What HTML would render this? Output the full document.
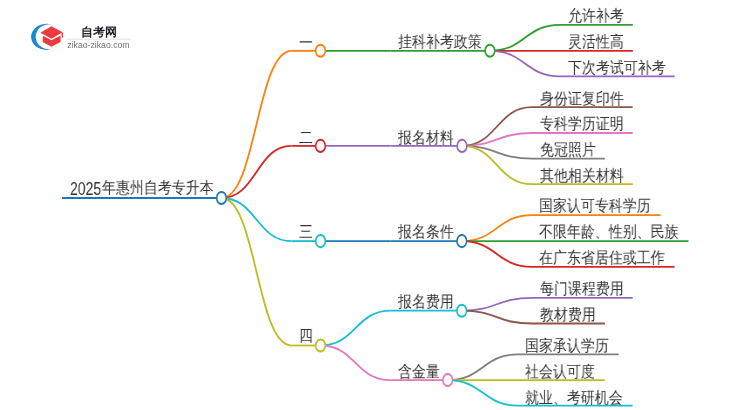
<!DOCTYPE html>
<html><head><meta charset="utf-8"><style>
html,body{margin:0;padding:0;background:#fff;}
body{width:750px;height:410px;position:relative;overflow:hidden;font-family:"Liberation Sans",sans-serif;}
svg.map{position:absolute;left:0;top:0;}
.t{position:absolute;white-space:nowrap;font-size:16px;line-height:20px;color:#333;transform-origin:0 0;transform:scaleX(0.872);will-change:transform;}
.dg{font-size:18px;transform:scaleX(0.778);}
.logo{position:absolute;left:0;top:0;}
.lt{position:absolute;left:81px;top:23.5px;font-size:11.6px;line-height:16px;font-weight:bold;color:#1c1f2a;white-space:nowrap;}
.lu{position:absolute;left:67.3px;top:39.5px;font-size:8.7px;line-height:10px;color:#707070;white-space:nowrap;}
</style></head><body>
<svg class="map" width="750" height="410" viewBox="0 0 750 410">
<path d="M62.00 198.00H221.50" stroke="#1f77b4" stroke-width="1.8" fill="none"/>
<path d="M221.50 198.00C256.50 198.00 256.50 50.80 291.50 50.80" stroke="#ff7f0e" stroke-width="1.8" fill="none"/>
<path d="M291.50 50.80H320.50" stroke="#ff7f0e" stroke-width="1.8" fill="none"/>
<path d="M221.50 198.00C256.50 198.00 256.50 145.90 291.50 145.90" stroke="#d62728" stroke-width="1.8" fill="none"/>
<path d="M291.50 145.90H320.50" stroke="#d62728" stroke-width="1.8" fill="none"/>
<path d="M221.50 198.00C256.50 198.00 256.50 241.10 291.50 241.10" stroke="#17becf" stroke-width="1.8" fill="none"/>
<path d="M291.50 241.10H320.50" stroke="#17becf" stroke-width="1.8" fill="none"/>
<path d="M221.50 198.00C256.50 198.00 256.50 345.50 291.50 345.50" stroke="#bcbd22" stroke-width="1.8" fill="none"/>
<path d="M291.50 345.50H320.50" stroke="#bcbd22" stroke-width="1.8" fill="none"/>
<path d="M320.50 50.80H390.50" stroke="#2ca02c" stroke-width="1.8" fill="none"/>
<path d="M390.50 50.80H489.90" stroke="#2ca02c" stroke-width="1.8" fill="none"/>
<path d="M489.90 50.80C524.95 50.80 524.95 24.80 560.00 24.80" stroke="#2ca02c" stroke-width="1.8" fill="none"/>
<path d="M560.00 24.80H632.81" stroke="#2ca02c" stroke-width="1.8" fill="none"/>
<path d="M489.90 50.80H560.00" stroke="#d62728" stroke-width="1.8" fill="none"/>
<path d="M560.00 50.80H632.81" stroke="#d62728" stroke-width="1.8" fill="none"/>
<path d="M489.90 50.80C524.95 50.80 524.95 76.40 560.00 76.40" stroke="#9467bd" stroke-width="1.8" fill="none"/>
<path d="M560.00 76.40H674.66" stroke="#9467bd" stroke-width="1.8" fill="none"/>
<path d="M320.50 145.90H390.50" stroke="#9467bd" stroke-width="1.8" fill="none"/>
<path d="M390.50 145.90H462.00" stroke="#9467bd" stroke-width="1.8" fill="none"/>
<path d="M462.00 145.90C497.00 145.90 497.00 107.10 532.00 107.10" stroke="#8c564b" stroke-width="1.8" fill="none"/>
<path d="M532.00 107.10H632.71" stroke="#8c564b" stroke-width="1.8" fill="none"/>
<path d="M462.00 145.90C497.00 145.90 497.00 133.00 532.00 133.00" stroke="#e377c2" stroke-width="1.8" fill="none"/>
<path d="M532.00 133.00H632.71" stroke="#e377c2" stroke-width="1.8" fill="none"/>
<path d="M462.00 145.90C497.00 145.90 497.00 158.70 532.00 158.70" stroke="#7f7f7f" stroke-width="1.8" fill="none"/>
<path d="M532.00 158.70H604.81" stroke="#7f7f7f" stroke-width="1.8" fill="none"/>
<path d="M462.00 145.90C497.00 145.90 497.00 184.20 532.00 184.20" stroke="#bcbd22" stroke-width="1.8" fill="none"/>
<path d="M532.00 184.20H632.71" stroke="#bcbd22" stroke-width="1.8" fill="none"/>
<path d="M320.50 241.10H390.50" stroke="#1f77b4" stroke-width="1.8" fill="none"/>
<path d="M390.50 241.10H461.80" stroke="#1f77b4" stroke-width="1.8" fill="none"/>
<path d="M461.80 241.10C496.90 241.10 496.90 215.10 532.00 215.10" stroke="#ff7f0e" stroke-width="1.8" fill="none"/>
<path d="M532.00 215.10H660.62" stroke="#ff7f0e" stroke-width="1.8" fill="none"/>
<path d="M461.80 241.10H532.00" stroke="#2ca02c" stroke-width="1.8" fill="none"/>
<path d="M532.00 241.10H688.52" stroke="#2ca02c" stroke-width="1.8" fill="none"/>
<path d="M461.80 241.10C496.90 241.10 496.90 266.90 532.00 266.90" stroke="#d62728" stroke-width="1.8" fill="none"/>
<path d="M532.00 266.90H674.57" stroke="#d62728" stroke-width="1.8" fill="none"/>
<path d="M320.50 345.50C355.50 345.50 355.50 310.70 390.50 310.70" stroke="#17becf" stroke-width="1.8" fill="none"/>
<path d="M390.50 310.70H461.70" stroke="#17becf" stroke-width="1.8" fill="none"/>
<path d="M461.70 310.70C496.85 310.70 496.85 297.80 532.00 297.80" stroke="#9467bd" stroke-width="1.8" fill="none"/>
<path d="M532.00 297.80H632.71" stroke="#9467bd" stroke-width="1.8" fill="none"/>
<path d="M461.70 310.70C496.85 310.70 496.85 323.50 532.00 323.50" stroke="#8c564b" stroke-width="1.8" fill="none"/>
<path d="M532.00 323.50H604.81" stroke="#8c564b" stroke-width="1.8" fill="none"/>
<path d="M320.50 345.50C355.50 345.50 355.50 380.10 390.50 380.10" stroke="#e377c2" stroke-width="1.8" fill="none"/>
<path d="M390.50 380.10H447.70" stroke="#e377c2" stroke-width="1.8" fill="none"/>
<path d="M447.70 380.10C482.85 380.10 482.85 354.40 518.00 354.40" stroke="#7f7f7f" stroke-width="1.8" fill="none"/>
<path d="M518.00 354.40H618.71" stroke="#7f7f7f" stroke-width="1.8" fill="none"/>
<path d="M447.70 380.10H518.00" stroke="#bcbd22" stroke-width="1.8" fill="none"/>
<path d="M518.00 380.10H604.76" stroke="#bcbd22" stroke-width="1.8" fill="none"/>
<path d="M447.70 380.10C482.85 380.10 482.85 405.60 518.00 405.60" stroke="#17becf" stroke-width="1.8" fill="none"/>
<path d="M518.00 405.60H632.66" stroke="#17becf" stroke-width="1.8" fill="none"/>
<circle r="6.05" transform="translate(489.9 50.8) scale(0.8 1)" stroke="#2ca02c" stroke-width="2" fill="#fff"/>
<circle r="6.05" transform="translate(462.0 145.9) scale(0.8 1)" stroke="#9467bd" stroke-width="2" fill="#fff"/>
<circle r="6.05" transform="translate(461.8 241.1) scale(0.8 1)" stroke="#1f77b4" stroke-width="2" fill="#fff"/>
<circle r="6.05" transform="translate(461.7 310.7) scale(0.8 1)" stroke="#17becf" stroke-width="2" fill="#fff"/>
<circle r="6.05" transform="translate(447.7 380.1) scale(0.8 1)" stroke="#e377c2" stroke-width="2" fill="#fff"/>
<circle r="6.05" transform="translate(320.5 50.8) scale(0.8 1)" stroke="#ff7f0e" stroke-width="2" fill="#fff"/>
<circle r="6.05" transform="translate(320.5 145.9) scale(0.8 1)" stroke="#d62728" stroke-width="2" fill="#fff"/>
<circle r="6.05" transform="translate(320.5 241.1) scale(0.8 1)" stroke="#17becf" stroke-width="2" fill="#fff"/>
<circle r="6.05" transform="translate(320.5 345.5) scale(0.8 1)" stroke="#bcbd22" stroke-width="2" fill="#fff"/>
<circle r="6.05" transform="translate(221.5 198.0) scale(0.8 1)" stroke="#1f77b4" stroke-width="2" fill="#fff"/>
</svg>
<div class="t dg" style="left:69.6px;top:178.9px">2025</div>
<div class="t" style="left:102.10px;top:178px">年惠州自考专升本</div>
<div class="t" style="left:299.00px;top:33px">一</div>
<div class="t" style="left:299.00px;top:128px">二</div>
<div class="t" style="left:299.00px;top:222px">三</div>
<div class="t" style="left:299.00px;top:326px">四</div>
<div class="t" style="left:398.30px;top:32px">挂科补考政策</div>
<div class="t" style="left:567.80px;top:6px">允许补考</div>
<div class="t" style="left:567.80px;top:32px">灵活性高</div>
<div class="t" style="left:567.80px;top:58px">下次考试可补考</div>
<div class="t" style="left:398.30px;top:128px">报名材料</div>
<div class="t" style="left:539.80px;top:89px">身份证复印件</div>
<div class="t" style="left:539.80px;top:114px">专科学历证明</div>
<div class="t" style="left:539.80px;top:140px">免冠照片</div>
<div class="t" style="left:539.80px;top:166px">其他相关材料</div>
<div class="t" style="left:398.30px;top:222px">报名条件</div>
<div class="t" style="left:539.20px;top:196px">国家认可专科学历</div>
<div class="t" style="left:539.20px;top:222px">不限年龄、性别、民族</div>
<div class="t" style="left:539.20px;top:248px">在广东省居住或工作</div>
<div class="t" style="left:398.30px;top:292px">报名费用</div>
<div class="t" style="left:539.80px;top:279px">每门课程费用</div>
<div class="t" style="left:539.80px;top:305px">教材费用</div>
<div class="t" style="left:398.30px;top:362px">含金量</div>
<div class="t" style="left:525.10px;top:336px">国家承认学历</div>
<div class="t" style="left:525.10px;top:362px">社会认可度</div>
<div class="t" style="left:525.10px;top:388px">就业、考研机会</div>

<svg class="logo" width="750" height="60" viewBox="0 0 750 60">
  <path d="M51.6 24.3 A15.8 13.1 0 1 0 52 49.2 A14 12.6 0 1 1 51.6 24.3Z" fill="#1a88cc"/>
  <path d="M40.3 32.7 L51.5 26.3 L62.7 32.3 L51.5 38.7Z" fill="#ee3a3f"/>
  <path d="M42.8 35.8 L51.5 40.2 L60.6 35.6 L60.6 42 L51.5 46.8 L42.8 42Z" fill="#ee3a3f"/>
  <path d="M61.6 32.5 L63.1 32.5 L63.1 37.5 L61.6 37.5Z" fill="#ee3a3f"/>
  <line x1="66" y1="39.2" x2="131" y2="39.2" stroke="#e3e3e3" stroke-width="1"/>
</svg>
<div class="lt">自考网</div>
<div class="lu">zikao-zikao.com</div>

</body></html>
